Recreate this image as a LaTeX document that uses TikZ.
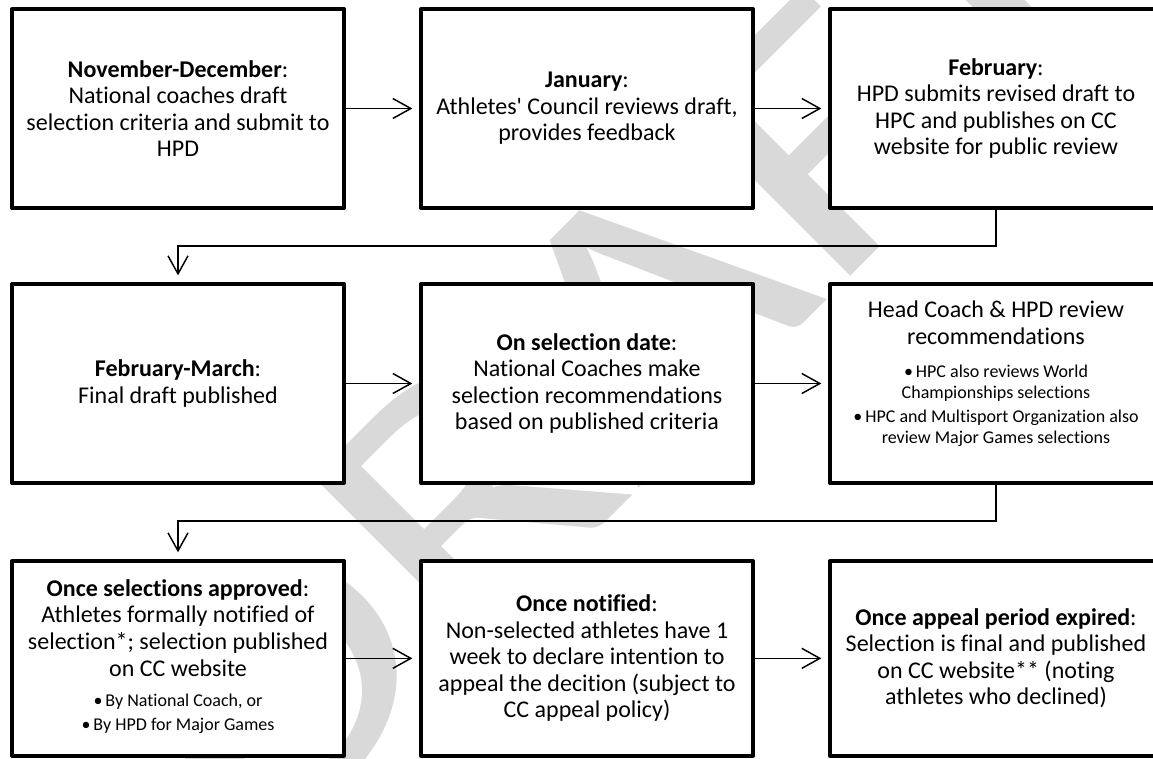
\documentclass[tikz,border=0pt]{standalone}
\usepackage{fontspec}
\setmainfont{Carlito}[Ligatures=NoCommon]
\usepackage{tikz}
\usetikzlibrary{positioning}
\usetikzlibrary{arrows.meta}
\tikzstyle{stage}=[rectangle,draw=black,fill=white,line width=3pt,line join=round,inner sep=0pt,outer sep=0pt,minimum width=249pt,minimum height=149.25pt,align=center,font={\fontsize{18pt}{19.9pt}\selectfont}]
\tikzstyle{flow}=[->,>={Straight Barb[length=13.5pt,width=15pt]},line width=1.1pt,shorten >=6.5pt]
\tikzstyle{watermark}=[text=black!15,inner sep=0pt,font={\fontsize{278pt}{278pt}\selectfont}]
\newcommand\bul[1]{{\fontsize{13.5pt}{15pt}\selectfont\textbullet\,#1}}
\newcommand\sub[1]{{\fontsize{13.5pt}{15pt}\selectfont #1}}

\begin{document}
\begin{tikzpicture}[x=0.75pt,y=-0.75pt,node distance=57pt and 57.75pt]
          \useasboundingbox (0,0) rectangle (1153,758);
          \node[watermark,rotate=45,xscale=1.26] (draft) at (614,345) {DRAFT};
          % first row
          \node[stage] at (178,108.5) (novdec) {\textbf{November-December}:\\National coaches draft\\selection criteria and submit to\\HPD};
          \node[stage] (jan) [right=of novdec] {\textbf{January}:\\Athletes\textquotesingle{} Council reviews draft,\\provides feedback};
          \node[stage] (feb) [right=of jan] {\textbf{February}:\\HPD submits revised draft to\\HPC and publishes on CC\\website for public review};
          % second row
          \node[stage] (febmar) [below=of novdec] {\textbf{February-March}:\\Final draft published};
          \node[stage] (seldate) [right=of febmar] {\textbf{On selection date}:\\National Coaches make\\selection recommendations\\based on published criteria};
          \node[stage,text depth=17pt] (review) [right=of seldate] {Head Coach \& HPD review\\recommendations\\[5pt]
            \bul{HPC also reviews World}\\[-4pt]\sub{Championships selections}\\[-2pt]
            \bul{HPC and Multisport Organization also}\\[-4pt]\sub{review Major Games selections}};
          % third row
          \node[stage,minimum height=146pt,text depth=5pt] (approved) [below=58.5pt of febmar] {\textbf{Once selections approved}:\\Athletes formally notified of\\selection*; selection published\\on CC website\\[3pt]
            \bul{By National Coach, or}\\[-2pt]\bul{By HPD for Major Games}};
          \node[stage,minimum height=146pt] (notified) [right=of approved] {\textbf{Once notified}:\\Non-selected athletes have 1\\week to declare intention to\\appeal the decition (subject to\\CC appeal policy)};
          \node[stage,minimum height=146pt] (expired) [right=of notified] {\textbf{Once appeal period expired}:\\Selection is final and published\\on CC website** (noting\\athletes who declined)};
          \draw [flow] (novdec) -- (jan);
          \draw [flow] (jan) -- (feb);
          \draw [flow] (feb.south) -- ++(0,38) -| (febmar.north);
          \draw [flow] (febmar) -- (seldate);
          \draw [flow] (seldate) -- (review);
          \draw [flow] (review.south) -- ++(0,38) -| (approved.north);
          \draw [flow] (approved) -- (notified);
          \draw [flow] (notified) -- (expired);
        \end{tikzpicture}
\end{document}
